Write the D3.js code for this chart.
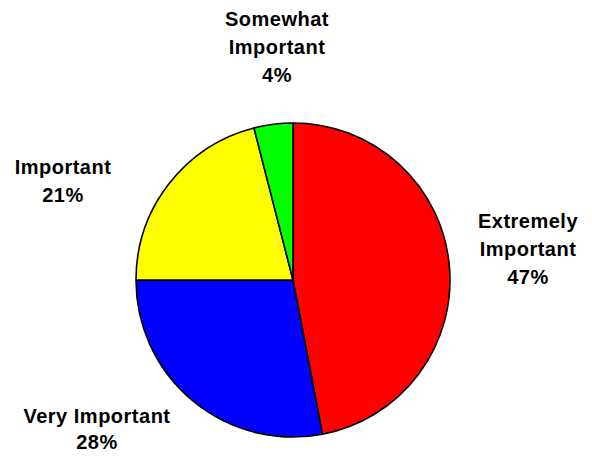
<!DOCTYPE html>
<html>
<head>
<meta charset="utf-8">
<script src="https://cdn.jsdelivr.net/npm/d3@7"></script>
<style>
  body { margin: 0; background: #fff; overflow: hidden; }
  text { font-family: "Liberation Sans", Arial, sans-serif; font-weight: bold; font-size: 20px; letter-spacing: 0.5px; }
</style>
</head>
<body>
<div id="chart"></div>
<script>
// slices, clockwise from 12 o'clock
var categories = ["Extremely Important", "Very Important", "Important", "Somewhat Important"];
var values = [47, 28, 21, 4];
var labelLines = [["Extremely", "Important"], ["Very Important"], ["Important"], ["Somewhat", "Important"]];
var colors = ["#ff0000", "#0000ff", "#ffff00", "#00ff00"];

var svgWidth = 592, svgHeight = 456;
var cx = 293, cy = 280, radius = 157;

// where each label block sits (center x, first baseline)
var labelPos = [[528, 228], [97, 423], [63, 174], [277, 26]];
var lineH = 28;

var svg = d3.select("#chart").append("svg")
    .attr("width", svgWidth)
    .attr("height", svgHeight)
    .style("display", "block");

var data = categories.map(function(c, i) {
    return { name: c, value: values[i], lines: labelLines[i], color: colors[i], pos: labelPos[i] };
});

var pie = d3.pie().value(d => d.value).sort(null);
var arc = d3.arc().innerRadius(0).outerRadius(radius);

var g = svg.append("g").attr("transform", `translate(${cx}, ${cy})`);

g.selectAll("path")
    .data(pie(data))
    .enter().append("path")
    .attr("d", arc)
    .attr("fill", d => d.data.color)
    .attr("stroke", "#000")
    .attr("stroke-width", 1.6)
    .attr("stroke-linejoin", "round");

// labels
data.forEach(function(d) {
    var t = svg.append("text")
        .attr("text-anchor", "middle")
        .attr("fill", "#000");
    var lines = d.lines.concat([d.value + "%"]);
    var step = d.lines.length == 1 && d.pos[1] > 400 ? 26 : lineH;
    lines.forEach(function(s, j) {
        t.append("tspan")
            .attr("x", d.pos[0])
            .attr("y", d.pos[1] + j * step)
            .text(s);
    });
});
</script>
</body>
</html>
